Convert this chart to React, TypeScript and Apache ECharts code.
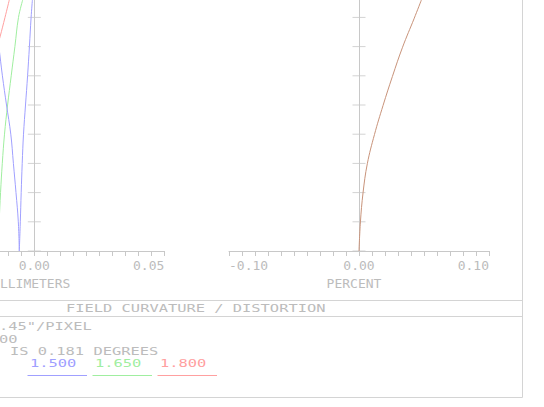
import React, { useEffect, useRef } from "react";
import * as echarts from "echarts";

// ---------- data ----------
const FIELD_MAX = 0.181; // degrees
const FIELD_TICKS = [0, 0.0181, 0.0362, 0.0543, 0.0724, 0.0905, 0.1086, 0.1267, 0.1448, 0.1629, 0.181];

// tick labels that are visible in the picture
const FC_TICK_LABELS = [0, 0.05]; // millimeters
const DIST_TICK_LABELS = [-0.1, 0, 0.1]; // percent

const WAVELENGTHS = ["1.500", "1.650", "1.800"];
const WAVE_COLORS = ["#a0a0ff", "#a0eea0", "#ffa0a0"];

// field curvature: [millimeters, field (deg)]
const FC_BLUE_S = [
  [-0.00577, 0], [-0.00538, 0.0181], [-0.00504, 0.0362], [-0.00465, 0.0543],
  [-0.00415, 0.0724], [-0.00338, 0.0905], [-0.00258, 0.1086], [-0.00188, 0.1267],
  [-0.00123, 0.1448], [-0.00073, 0.1556],
];
const FC_BLUE_T = [
  [-0.00577, 0], [-0.00615, 0.0181], [-0.00704, 0.0362], [-0.00804, 0.0543],
  [-0.00904, 0.0724], [-0.01069, 0.0905], [-0.01227, 0.1086], [-0.01365, 0.1267],
  [-0.01531, 0.1448],
];
const FC_GREEN = [
  [-0.01375, 0], [-0.0135, 0.0181], [-0.01298, 0.0362], [-0.01231, 0.0543],
  [-0.01146, 0.0724], [-0.01027, 0.0905], [-0.00888, 0.1086], [-0.00746, 0.1267],
  [-0.00608, 0.1448], [-0.00446, 0.1556],
];
const FC_RED = [
  [-0.0167, 0.1086], [-0.01427, 0.1267], [-0.01319, 0.1327], [-0.01127, 0.1448],
  [-0.00962, 0.1556],
];

// distortion: [percent, field (deg)]
const DISTORTION = [
  [0, 0], [0.0011, 0.018], [0.0031, 0.036], [0.0064, 0.0541], [0.0119, 0.0722],
  [0.0185, 0.0902], [0.0257, 0.1082], [0.0335, 0.1263], [0.0425, 0.1443],
  [0.048, 0.1556],
];

const TITLE = "FIELD CURVATURE / DISTORTION";
const INFO_LINES = ['.45"/PIXEL', "00", "IS 0.181 DEGREES"];

// ---------- styles ----------
const AXIS = "#c8c8c8";
const BOX = "#d4d4d4";
const TEXT = "#bcbcbc";
const FONT = "DejaVu Sans Mono";

export default function App() {
  const ref = useRef<HTMLDivElement>(null);

  useEffect(() => {
    if (!ref.current) return;
    const chart = echarts.init(ref.current, null, { renderer: "svg" });

    const fmt = (labels: number[]) => (v: number) => {
      const hit = labels.some((l) => Math.abs(l - v) < 1e-9);
      if (!hit) return "";
      return Math.abs(v) < 1e-9 ? "0.00" : v.toFixed(2);
    };

    const xAxis = (gridIndex: number, min: number, max: number, interval: number, labels: number[], name: string, pad: number[]) => ({
      gridIndex,
      type: "value",
      min,
      max,
      interval,
      name,
      nameLocation: "middle",
      nameGap: 20,
      nameTextStyle: { color: TEXT, fontFamily: FONT, fontSize: 13, padding: pad },
      axisLine: { onZero: false, lineStyle: { color: AXIS, width: 1 } },
      axisTick: { show: true, length: 5, lineStyle: { color: AXIS, width: 1 } },
      axisLabel: {
        formatter: fmt(labels),
        color: TEXT,
        fontFamily: FONT,
        fontSize: 13,
        margin: 8,
        showMinLabel: true,
        showMaxLabel: true,
        alignMinLabel: "left",
        alignMaxLabel: "right",
      },
      splitLine: { show: false },
    });

    const yAxis = (gridIndex: number) => ({
      gridIndex,
      type: "value",
      min: 0,
      max: FIELD_MAX,
      axisLine: { onZero: true, lineStyle: { color: AXIS, width: 1 } },
      axisTick: { show: false },
      axisLabel: { show: false },
      splitLine: { show: false },
    });

    const tickSeries = (idx: number) => ({
      type: "scatter",
      xAxisIndex: idx,
      yAxisIndex: idx,
      silent: true,
      symbol: "rect",
      symbolSize: [13, 1],
      itemStyle: { color: AXIS },
      data: FIELD_TICKS.map((f) => [0, f]),
      z: 1,
    });

    const curve = (name: string, data: number[][], color: string, idx: number) => ({
      name,
      type: "line",
      xAxisIndex: idx,
      yAxisIndex: idx,
      data,
      showSymbol: false,
      smooth: 0.4,
      silent: true,
      lineStyle: { color, width: 1 },
      z: 3,
    });

    const graphics: any[] = [
      { type: "line", shape: { x1: 0, y1: 300.5, x2: 522.5, y2: 300.5 }, style: { stroke: BOX, lineWidth: 1 } },
      { type: "line", shape: { x1: 0, y1: 316.5, x2: 522.5, y2: 316.5 }, style: { stroke: BOX, lineWidth: 1 } },
      { type: "line", shape: { x1: 0, y1: 397.5, x2: 522.5, y2: 397.5 }, style: { stroke: BOX, lineWidth: 1 } },
      { type: "line", shape: { x1: 522.5, y1: 0, x2: 522.5, y2: 397.5 }, style: { stroke: BOX, lineWidth: 1 } },
    ];
    const text = (t: string, x: number, y: number, color: string) => ({
      type: "text",
      x,
      y,
      scaleX: 1.4,
      style: {
        text: t,
        fill: color,
        font: `11px "${FONT}"`,
        textAlign: "left",
        textVerticalAlign: "middle",
      },
    });
    graphics.push(text(TITLE, 66, 308.5, TEXT));
    const infoPos = [
      [-1, 326.5],
      [-1, 339.3],
      [10, 351.3],
    ];
    INFO_LINES.forEach((t, i) => graphics.push(text(t, infoPos[i][0], infoPos[i][1], TEXT)));
    WAVELENGTHS.forEach((w, i) => {
      const x0 = 27.5 + i * 65;
      graphics.push(text(w, x0 + 2.5, 363.5, WAVE_COLORS[i]));
      graphics.push({
        type: "line",
        shape: { x1: x0, y1: 375.5, x2: x0 + 59.5, y2: 375.5 },
        style: { stroke: WAVE_COLORS[i], lineWidth: 1 },
      });
    });

    chart.setOption({
      animation: false,
      backgroundColor: "#ffffff",
      grid: [
        { left: -95.7, top: -41, width: 260, height: 292, outerBoundsMode: "none", containLabel: false },
        { left: 229, top: -41, width: 260, height: 292, outerBoundsMode: "none", containLabel: false },
      ],
      xAxis: [
        xAxis(0, -0.05, 0.05, 0.005, FC_TICK_LABELS, "MILLIMETERS", [0, 14, 0, 0]),
        xAxis(1, -0.1, 0.1, 0.01, DIST_TICK_LABELS, "PERCENT", [0, 10, 0, 0]),
      ],
      yAxis: [yAxis(0), yAxis(1)],
      graphic: graphics,
      series: [
        tickSeries(0),
        tickSeries(1),
        curve("1.800", FC_RED, WAVE_COLORS[2], 0),
        curve("1.650", FC_GREEN, WAVE_COLORS[1], 0),
        curve("1.500 T", FC_BLUE_T, WAVE_COLORS[0], 0),
        curve("1.500 S", FC_BLUE_S, WAVE_COLORS[0], 0),
        curve("DISTORTION", DISTORTION, "#c8937a", 1),
      ],
    });

    return () => chart.dispose();
  }, []);

  return (
    <div
      ref={ref}
      style={{ position: "fixed", left: 0, top: 0, width: 544, height: 407, background: "#fff" }}
    />
  );
}
